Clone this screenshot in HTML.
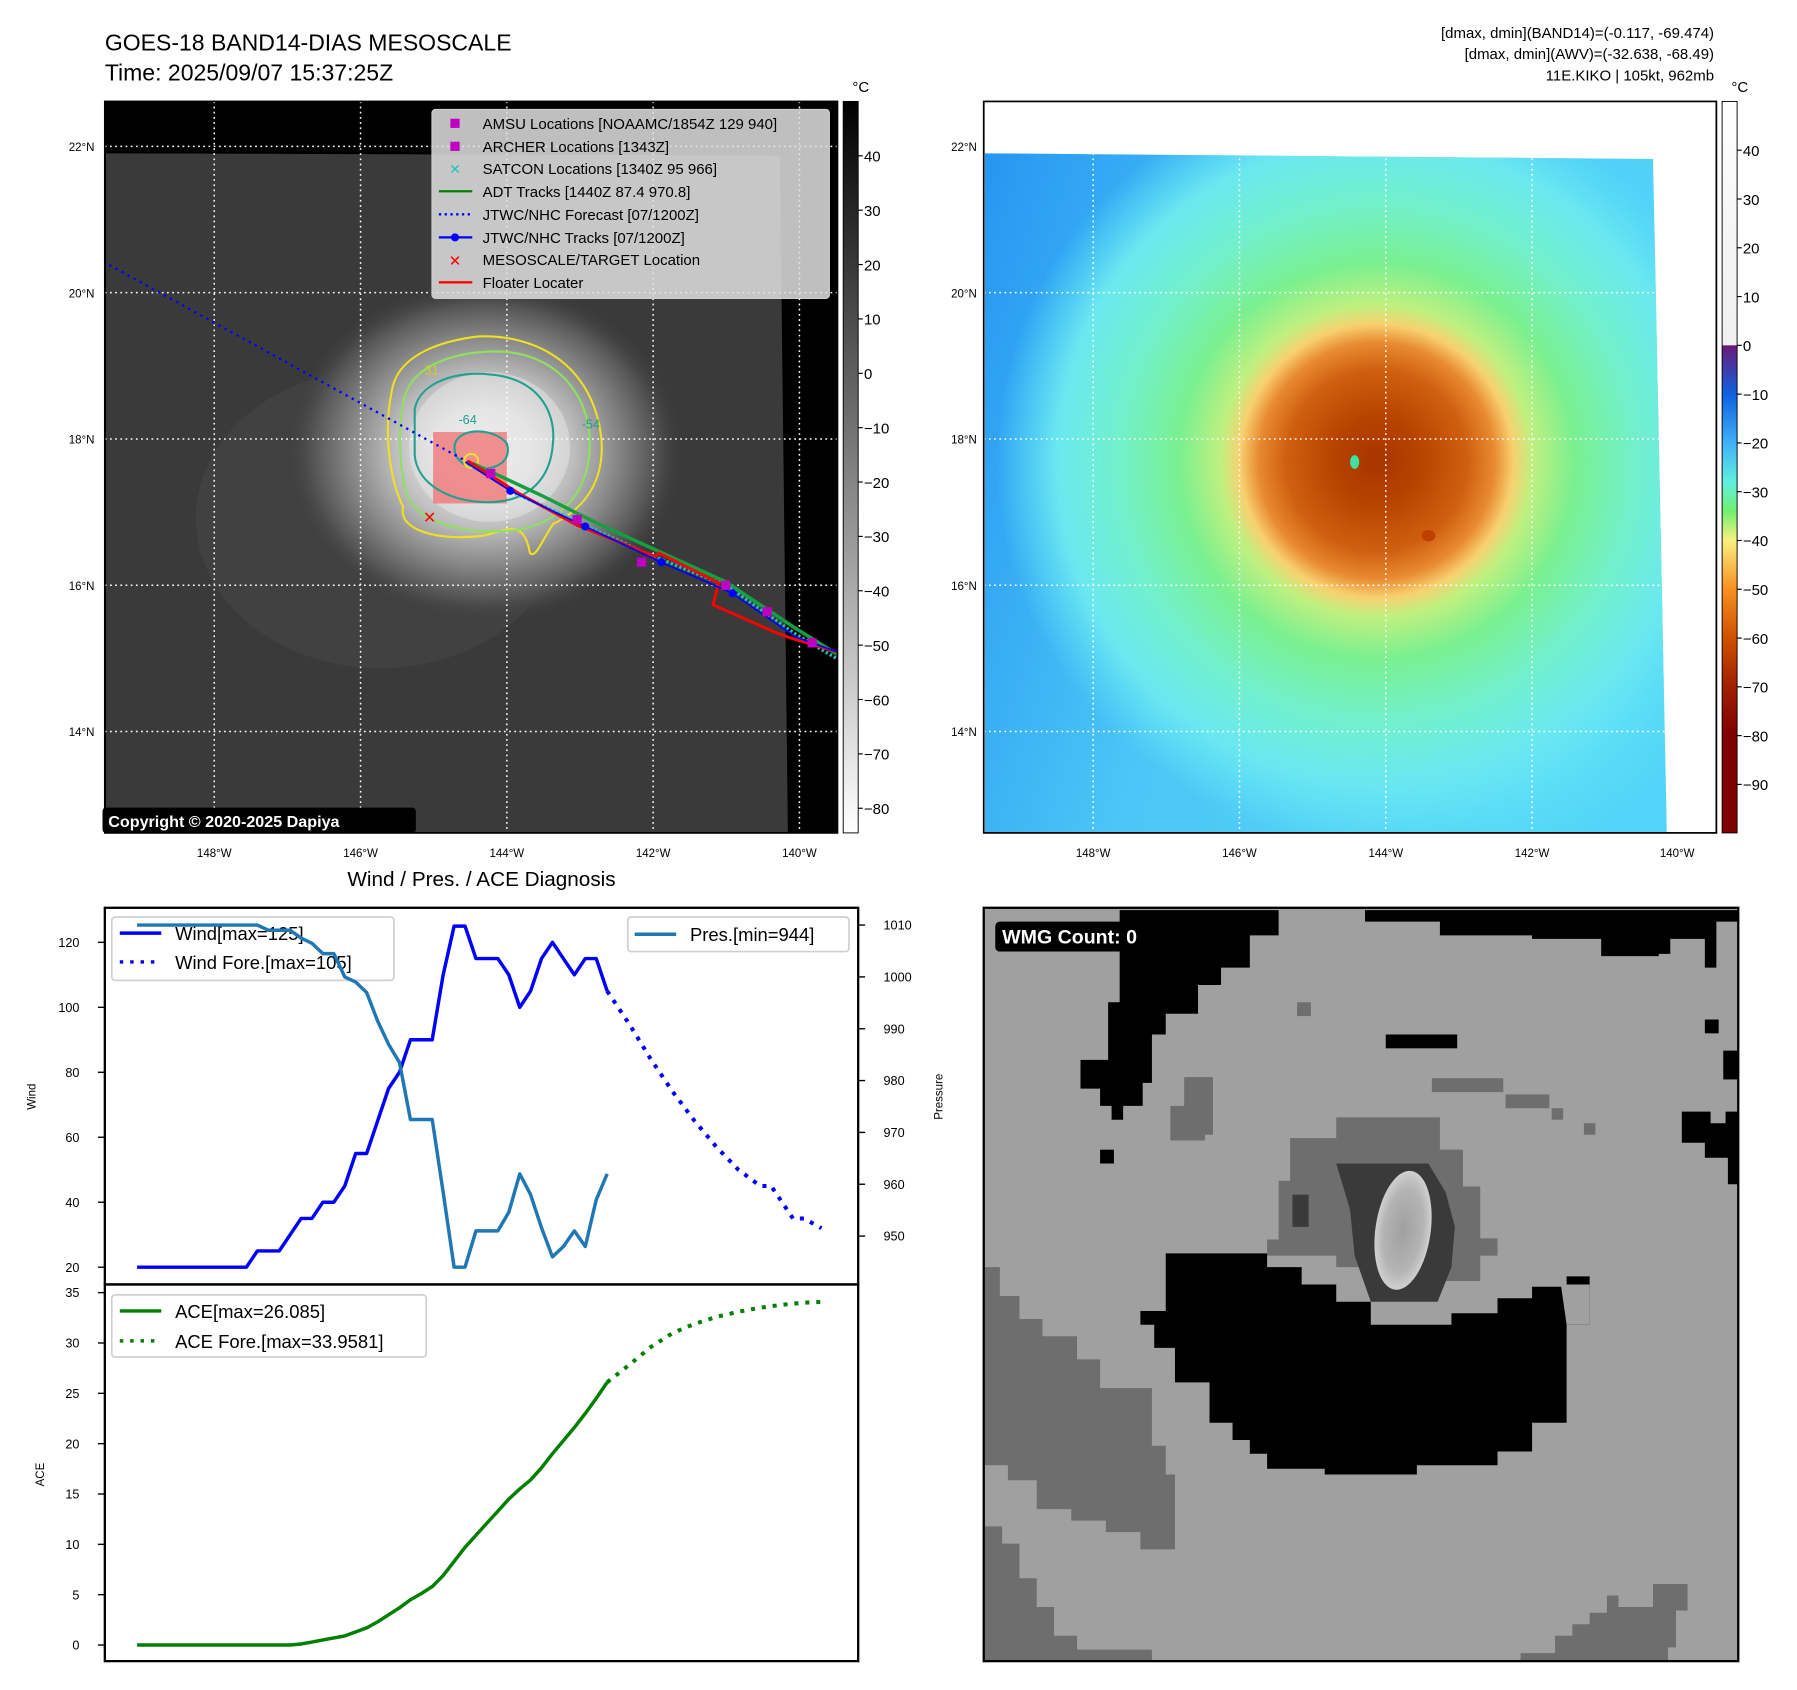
<!DOCTYPE html>
<html><head><meta charset="utf-8"><style>
html,body{margin:0;padding:0;background:#fff}
svg{display:block;font-family:"Liberation Sans","DejaVu Sans",sans-serif}
</style></head><body>
<svg id="fig" width="1797" height="1690" viewBox="0 0 1560 1467" xmlns="http://www.w3.org/2000/svg">
<defs>
<clipPath id="m1clip"><rect x="91" y="88" width="636" height="635"/></clipPath>
<clipPath id="d1clip"><polygon points="92,133 677,135 684,723 92,723"/></clipPath>
<clipPath id="d2clip"><polygon points="855,133 1435,138 1447,723 855,723"/></clipPath>
<clipPath id="wclip"><rect x="854" y="788" width="655" height="654"/></clipPath>
<radialGradient id="storm1" cx="0.5" cy="0.5" r="0.5">
<stop offset="0" stop-color="#f2f2f2"/><stop offset="0.25" stop-color="#e2e2e2"/><stop offset="0.45" stop-color="#bcbcbc"/><stop offset="0.65" stop-color="#8a8a8a"/><stop offset="0.85" stop-color="#555"/><stop offset="1" stop-color="#3a3a3a" stop-opacity="0"/>
</radialGradient>
<linearGradient id="bg2" x1="0" y1="0" x2="1" y2="0.3">
<stop offset="0" stop-color="#2596f2"/><stop offset="0.45" stop-color="#4cc6f6"/><stop offset="1" stop-color="#52d4f8"/>
</linearGradient>
<radialGradient id="bg2b" cx="0.5" cy="0.5" r="0.5">
<stop offset="0" stop-color="#7af8f0"/><stop offset="1" stop-color="#7af8f0" stop-opacity="0"/>
</radialGradient>
<radialGradient id="storm2" cx="0.5" cy="0.5" r="0.5">
<stop offset="0" stop-color="#a83400"/><stop offset="0.12" stop-color="#b84400"/><stop offset="0.24" stop-color="#d06010"/><stop offset="0.31" stop-color="#e88a30"/><stop offset="0.36" stop-color="#f8d070"/><stop offset="0.41" stop-color="#c0f080"/><stop offset="0.52" stop-color="#7af090"/><stop offset="0.68" stop-color="#72f0cc"/><stop offset="0.84" stop-color="#6ae8f0"/><stop offset="1" stop-color="#60e0f8" stop-opacity="0"/>
</radialGradient>
<linearGradient id="cb1" x1="0" y1="0" x2="0" y2="1"><stop offset="0" stop-color="#000"/><stop offset="1" stop-color="#fff"/></linearGradient>
<linearGradient id="cb2" x1="0" y1="0" x2="0" y2="1">
<stop offset="0" stop-color="#ffffff"/><stop offset="0.2" stop-color="#f4f4f4"/><stop offset="0.333" stop-color="#f0f0f0"/><stop offset="0.334" stop-color="#6a1a78"/><stop offset="0.4" stop-color="#1060e0"/><stop offset="0.467" stop-color="#40b0f8"/><stop offset="0.52" stop-color="#60f0e0"/><stop offset="0.56" stop-color="#70f070"/><stop offset="0.6" stop-color="#f8f080"/><stop offset="0.667" stop-color="#f89020"/><stop offset="0.734" stop-color="#d05000"/><stop offset="0.8" stop-color="#a02000"/><stop offset="0.867" stop-color="#800000"/><stop offset="1" stop-color="#800000"/>
</linearGradient>
<radialGradient id="eyeg" cx="0.5" cy="0.5" r="0.5"><stop offset="0" stop-color="#a0a0a0"/><stop offset="0.7" stop-color="#b4b4b4"/><stop offset="1" stop-color="#d0d0d0"/></radialGradient>
</defs>

<text x="91" y="44" font-size="20">GOES-18 BAND14-DIAS MESOSCALE</text>
<text x="91" y="70" font-size="20">Time: 2025/09/07 15:37:25Z</text>
<g font-size="13" text-anchor="end">
<text x="1488" y="33">[dmax, dmin](BAND14)=(-0.117, -69.474)</text>
<text x="1488" y="51">[dmax, dmin](AWV)=(-32.638, -68.49)</text>
<text x="1488" y="70">11E.KIKO | 105kt, 962mb</text>
</g>

<g>
<rect x="91" y="88" width="636" height="635" fill="#000"/>
<g clip-path="url(#d1clip)">
<rect x="91" y="130" width="600" height="595" fill="#3a3a3a"/>
<ellipse cx="330" cy="450" rx="160" ry="130" fill="#444" opacity="0.7"/>
<ellipse cx="420" cy="392" rx="175" ry="150" fill="url(#storm1)"/>
<ellipse cx="425" cy="388" rx="70" ry="65" fill="#e8e8e8" opacity="0.5"/>
</g>
<g clip-path="url(#m1clip)">
<g stroke="#fff" stroke-width="1.3" stroke-dasharray="1.5,3" fill="none">
<line x1="91" y1="127" x2="727" y2="127"/><line x1="91" y1="254" x2="727" y2="254"/><line x1="91" y1="381" x2="727" y2="381"/><line x1="91" y1="508" x2="727" y2="508"/><line x1="91" y1="635" x2="727" y2="635"/>
<line x1="186" y1="88" x2="186" y2="723"/><line x1="313" y1="88" x2="313" y2="723"/><line x1="440" y1="88" x2="440" y2="723"/><line x1="567" y1="88" x2="567" y2="723"/><line x1="694" y1="88" x2="694" y2="723"/>
</g>
<rect x="376" y="375" width="64" height="62" fill="#f07070" opacity="0.75"/>
<g fill="none" stroke-width="1.8">
<path stroke="#f0e020" d="M340,340 C345,305 390,295 415,292 C470,290 515,320 522,380 C525,415 510,440 480,455 C470,470 465,485 460,480 C455,450 440,460 420,465 C380,470 345,460 350,440 C340,420 332,380 340,340 Z"/>
<path stroke="#90e060" d="M350,350 C355,315 400,305 430,305 C480,305 512,340 512,385 C512,425 490,452 450,460 C405,465 360,455 352,425 C346,400 346,370 350,350 Z"/>
<path stroke="#20a090" d="M360,355 C365,330 400,322 425,325 C465,328 483,355 480,385 C478,415 460,435 425,436 C390,436 362,420 360,395 Z"/>
<path stroke="#20a090" d="M395,385 C400,370 430,372 440,385 C445,400 430,410 410,406 C398,402 393,395 395,385 Z"/>
<circle cx="409" cy="400" r="6" stroke="#f0e020"/>
</g>
<g font-size="11" fill="#20a090"><text x="365" y="325" fill="#d0d020">-31</text><text x="398" y="368">-64</text><text x="505" y="372">-54</text></g>
<polyline points="95,230 406,401" fill="none" stroke="#0000ff" stroke-width="2" stroke-dasharray="2,4"/>
<polyline points="410,402 470,430 520,455 575,480 630,505 690,545 727,568" fill="none" stroke="#15a040" stroke-width="3"/>
<polyline points="440,425 500,452 560,480 630,508 690,550 727,572" fill="none" stroke="#20c0c0" stroke-width="3" stroke-dasharray="2,2"/>
<polyline points="406,400 450,428 501,456 569,483 572,480 624,506 619,525 671,548 684,553 727,566" fill="none" stroke="#ff0000" stroke-width="2.5"/>
<polyline points="404,401 443,426 508,457 574,488 636,515 691,553 727,566" fill="none" stroke="#0000ff" stroke-width="1.5"/>
<g fill="#0000ff"><circle cx="443" cy="426" r="3.5"/><circle cx="508" cy="457" r="3.5"/><circle cx="574" cy="488" r="3.5"/><circle cx="636" cy="515" r="3.5"/></g>
<g fill="#c000c0"><rect x="422" y="407" width="8" height="8"/><rect x="497" y="447" width="8" height="8"/><rect x="553" y="484" width="8" height="8"/><rect x="626" y="504" width="8" height="8"/><rect x="662" y="527" width="8" height="8"/><rect x="701" y="554" width="8" height="8"/></g>
<text x="373" y="454" font-size="14" font-weight="bold" fill="#ff0000" text-anchor="middle">✕</text>
</g>
<rect x="91" y="88" width="636" height="635" fill="none" stroke="#000" stroke-width="1.5"/>
<g>
<rect x="375" y="95" width="345" height="164" rx="3" fill="#e0e0e0" fill-opacity="0.85" stroke="#ccc"/>
<g font-size="13">
<rect x="391" y="103" width="8" height="8" fill="#c000c0"/><text x="419" y="112">AMSU Locations [NOAAMC/1854Z 129 940]</text>
<rect x="391" y="123" width="8" height="8" fill="#c000c0"/><text x="419" y="132">ARCHER Locations [1343Z]</text>
<text x="395" y="151" fill="#20c0c0" font-size="12" font-weight="bold" text-anchor="middle">✕</text><text x="419" y="151">SATCON Locations [1340Z 95 966]</text>
<line x1="381" y1="166" x2="410" y2="166" stroke="#008000" stroke-width="2"/><text x="419" y="171">ADT Tracks [1440Z 87.4 970.8]</text>
<line x1="381" y1="186" x2="410" y2="186" stroke="#0000ff" stroke-width="2" stroke-dasharray="2,3"/><text x="419" y="191">JTWC/NHC Forecast [07/1200Z]</text>
<line x1="381" y1="206" x2="410" y2="206" stroke="#0000ff" stroke-width="2"/><circle cx="395" cy="206" r="3.5" fill="#0000ff"/><text x="419" y="211">JTWC/NHC Tracks [07/1200Z]</text>
<text x="395" y="231" fill="#ff0000" font-size="13" font-weight="bold" text-anchor="middle">✕</text><text x="419" y="230">MESOSCALE/TARGET Location</text>
<line x1="381" y1="245" x2="410" y2="245" stroke="#ff0000" stroke-width="2"/><text x="419" y="250">Floater Locater</text>
</g></g>
<g><rect x="89" y="701" width="272" height="22" rx="3" fill="#000"/><text x="94" y="718" font-size="14" font-weight="bold" fill="#fff">Copyright © 2020-2025 Dapiya</text></g>
</g>
<g font-size="10" text-anchor="end">
<text x="82" y="131">22°N</text><text x="82" y="258">20°N</text><text x="82" y="385">18°N</text><text x="82" y="512">16°N</text><text x="82" y="639">14°N</text></g>
<g font-size="10" text-anchor="middle">
<text x="186" y="744">148°W</text><text x="313" y="744">146°W</text><text x="440" y="744">144°W</text><text x="567" y="744">142°W</text><text x="694" y="744">140°W</text></g>
<g>
<rect x="732" y="88" width="13" height="635" fill="url(#cb1)" stroke="#000" stroke-width="0.8"/>
<text x="740" y="80" font-size="13">°C</text>
<g id="cb1ticks" font-size="13"></g>
</g>

<g>
<rect x="854" y="88" width="636" height="635" fill="#fff"/>
<g clip-path="url(#d2clip)">
<rect x="854" y="130" width="600" height="600" fill="url(#bg2)"/>
<ellipse cx="1230" cy="560" rx="260" ry="200" fill="url(#bg2b)"/>
<ellipse cx="1195" cy="400" rx="330" ry="330" fill="url(#storm2)"/>
<ellipse cx="1176" cy="401" rx="4" ry="6" fill="#40e0a0"/>
<ellipse cx="1240" cy="465" rx="6" ry="5" fill="#c04000"/>
<g stroke="#fff" stroke-width="1.3" stroke-dasharray="1.5,3">
<line x1="854" y1="127" x2="1490" y2="127"/><line x1="854" y1="254" x2="1490" y2="254"/><line x1="854" y1="381" x2="1490" y2="381"/><line x1="854" y1="508" x2="1490" y2="508"/><line x1="854" y1="635" x2="1490" y2="635"/>
<line x1="949" y1="88" x2="949" y2="723"/><line x1="1076" y1="88" x2="1076" y2="723"/><line x1="1203" y1="88" x2="1203" y2="723"/><line x1="1330" y1="88" x2="1330" y2="723"/>
</g></g>
<rect x="854" y="88" width="636" height="635" fill="none" stroke="#000" stroke-width="1.5"/>
</g>
<g font-size="10" text-anchor="end">
<text x="848" y="131">22°N</text><text x="848" y="258">20°N</text><text x="848" y="385">18°N</text><text x="848" y="512">16°N</text><text x="848" y="639">14°N</text></g>
<g font-size="10" text-anchor="middle">
<text x="949" y="744">148°W</text><text x="1076" y="744">146°W</text><text x="1203" y="744">144°W</text><text x="1330" y="744">142°W</text><text x="1456" y="744">140°W</text></g>
<g>
<rect x="1495" y="88" width="13" height="635" fill="url(#cb2)" stroke="#000" stroke-width="0.8"/>
<text x="1503" y="80" font-size="13">°C</text>
<g id="cb2ticks" font-size="13"></g>
</g>

<text x="418" y="769" font-size="18" text-anchor="middle">Wind / Pres. / ACE Diagnosis</text>
<g id="chart"></g>

<g>
<g clip-path="url(#wclip)">
<rect x="854" y="788" width="655" height="654" fill="#a0a0a0"/>
<g fill="#6e6e6e">
<polygon points="855,1100 868,1100 868,1125 885,1125 885,1145 905,1145 905,1160 935,1160 935,1180 955,1180 955,1205 1000,1205 1000,1255 1012,1255 1012,1280 1020,1280 1020,1345 990,1345 990,1330 960,1330 960,1320 930,1320 930,1310 900,1310 900,1285 875,1285 875,1272 855,1272"/>
<polygon points="855,1325 870,1325 870,1340 885,1340 885,1370 900,1370 900,1395 915,1395 915,1420 935,1420 935,1432 1000,1432 1000,1442 855,1442"/>
<polygon points="1320,1442 1320,1435 1350,1435 1350,1420 1365,1420 1365,1410 1380,1410 1380,1400 1395,1400 1395,1385 1405,1385 1405,1395 1435,1395 1435,1375 1465,1375 1465,1398 1455,1398 1455,1430 1448,1430 1448,1442"/>
<rect x="1028" y="935" width="25" height="50"/><rect x="1016" y="960" width="30" height="30"/><rect x="1243" y="936" width="62" height="12"/><rect x="1307" y="950" width="38" height="12"/><rect x="1347" y="962" width="10" height="10"/><rect x="1375" y="975" width="10" height="10"/><rect x="1126" y="870" width="12" height="12"/>
<polygon points="1120,988 1160,988 1160,970 1250,970 1250,998 1270,998 1270,1030 1285,1030 1285,1075 1300,1075 1300,1090 1285,1090 1285,1112 1190,1112 1190,1100 1160,1100 1160,1090 1100,1090 1100,1076 1110,1076 1110,1025 1120,1025"/>
</g>
<g fill="#000">
<polygon points="972,790 1110,790 1110,812 1085,812 1085,840 1060,840 1060,855 1040,855 1040,880 1012,880 1012,898 1000,898 1000,940 992,940 992,960 975,960 975,972 965,972 965,960 955,960 955,945 938,945 938,920 962,920 962,870 972,870"/>
<polygon points="1185,790 1510,790 1510,800 1490,800 1490,840 1480,840 1480,815 1450,815 1450,828 1440,828 1440,830 1390,830 1390,815 1330,815 1330,812 1250,812 1250,800 1185,800"/>
<rect x="1203" y="898" width="62" height="12"/><rect x="1480" y="885" width="12" height="12"/><rect x="1496" y="912" width="14" height="25"/><rect x="955" y="998" width="12" height="12"/>
<polygon points="1460,965 1485,965 1485,975 1498,975 1498,965 1510,965 1510,1028 1500,1028 1500,1005 1480,1005 1480,992 1460,992"/>
<polygon points="1012,1088 1100,1088 1100,1100 1130,1100 1130,1115 1160,1115 1160,1130 1190,1130 1190,1150 1260,1150 1260,1140 1300,1140 1300,1127 1330,1127 1330,1117 1360,1117 1360,1108 1380,1108 1380,1150 1360,1150 1360,1235 1330,1235 1330,1260 1300,1260 1300,1272 1230,1272 1230,1280 1150,1280 1150,1275 1100,1275 1100,1262 1085,1262 1085,1250 1070,1250 1070,1235 1050,1235 1050,1200 1020,1200 1020,1170 1002,1170 1002,1150 990,1150 990,1138 1012,1138"/>
</g>
<polygon fill="#a0a0a0" points="1355,1115 1380,1115 1380,1150 1360,1150"/>
<polygon fill="#3a3a3a" points="1160,1010 1240,1010 1255,1035 1263,1065 1260,1100 1248,1130 1190,1130 1176,1090 1172,1050"/>
<rect x="1122" y="1037" width="14" height="28" fill="#3a3a3a"/>
<ellipse cx="1218" cy="1068" rx="24" ry="52" transform="rotate(8 1218 1068)" fill="url(#eyeg)"/>
</g>
<rect x="854" y="788" width="655" height="654" fill="none" stroke="#000" stroke-width="2"/>
<g><rect x="864" y="800" width="160" height="26" rx="4" fill="#000"/><text x="870" y="819" font-size="17" font-weight="bold" fill="#fff">WMG Count: 0</text></g>
</g>

<script>
var windObs = [20,20,20,20,20,20,20,20,20,20,20,25,25,25,30,35,35,40,40,45,55,55,65,75,80,90,90,90,110,125,125,115,115,115,110,100,105,115,120,115,110,115,115,105];
var presObs = [1010,1010,1010,1010,1010,1010,1010,1010,1010,1010,1010,1010,1009,1009,1009,1007.5,1006.5,1004.5,1004.5,1000,999,997,991.5,987,983.5,972.5,972.5,972.5,958.5,944,944,951,951,951,954.6,962,958,951.6,946,948,951,948,957,962];
var aceObs = [0,0,0,0,0,0,0,0,0,0,0,0,0,0,0,0.1,0.3,0.5,0.7,0.9,1.3,1.7,2.3,3.0,3.7,4.5,5.1,5.8,6.9,8.3,9.7,10.9,12.1,13.3,14.5,15.5,16.4,17.6,19.0,20.3,21.6,23.0,24.5,26.1];
var foreIdx = [43,45,47,49,51,53,55,57,58,59,60,61,62.6];
var windFore = [105,95,84,74,65,57,50,45,45,40,35,35,32];
var aceForeIdx = [43,45,47,49,51,53,55,57,59,61,63];
var aceFore = [26.1,27.8,29.6,31.0,31.9,32.6,33.1,33.5,33.8,34.0,34.1];
var windTicks = [20,40,60,80,100,120];
var presTicks = [950,960,970,980,990,1000,1010];
var aceTicks = [0,5,10,15,20,25,30,35];
var cb1Ticks = [40,30,20,10,0,-10,-20,-30,-40,-50,-60,-70,-80];
var cb2Ticks = [40,30,20,10,0,-10,-20,-30,-40,-50,-60,-70,-80,-90];

var NS = "http://www.w3.org/2000/svg";
function mk(tag, attrs, parent){var e=document.createElementNS(NS,tag);for(var k in attrs)e.setAttribute(k,attrs[k]);parent.appendChild(e);return e;}
function xS(i){return 119 + i*9.49;}
function yW(v){return 1100 - (v-20)*2.82;}
function yP(v){return 1073 - (v-950)*4.5;}
function yA(v){return 1428 - v*8.74;}
function yC1(v){return 88 + (50-v)*4.72;}
function yC2(v){return 88 + (50-v)*4.235;}
function lbl(s){return (s<0?"\u2212"+(-s):""+s);}

var cb1 = document.getElementById('cb1ticks');
cb1Ticks.forEach(function(v){
  var t = mk('line',{x1:745,x2:749,y1:yC1(v),y2:yC1(v),stroke:'#000'},cb1);
  
  
  var tx = mk('text',{x:750,y:yC1(v)+5},cb1); tx.textContent = lbl(v);
  
  
});
var cb2 = document.getElementById('cb2ticks');
cb2Ticks.forEach(function(v){
  var t = mk('line',{x1:1508,x2:1512,y1:yC2(v),y2:yC2(v),stroke:'#000'},cb2);
  
  
  var tx = mk('text',{x:1513,y:yC2(v)+5},cb2); tx.textContent = lbl(v);
  
  
});

var ch = document.getElementById('chart');
function pts(xs, ys, fy){return ys.map(function(v,i){return xS(xs?xs[i]:i).toFixed(1)+','+fy(v).toFixed(1);}).join(' ');}

var f1 = mk('rect',{x:91,y:788,width:654,height:327,fill:'#fff',stroke:'none'},ch);


var f2 = mk('rect',{x:91,y:1115,width:654,height:327,fill:'#fff',stroke:'none'},ch);



windTicks.forEach(function(v){
  var t=mk('line',{x1:85,x2:91,y1:yW(v),y2:yW(v),stroke:'#000','stroke-width':1.2},ch);
  
  
  var tx=mk('text',{x:69,y:yW(v)+4,'font-size':11,'text-anchor':'end'},ch); tx.textContent=v;
  
  
});
presTicks.forEach(function(v){
  var t=mk('line',{x1:745,x2:751,y1:yP(v),y2:yP(v),stroke:'#000','stroke-width':1.2},ch);
  
  
  var tx=mk('text',{x:767,y:yP(v)+4,'font-size':11},ch); tx.textContent=v;
  
  
});
aceTicks.forEach(function(v){
  var t=mk('line',{x1:85,x2:91,y1:yA(v),y2:yA(v),stroke:'#000','stroke-width':1.2},ch);
  
  
  var tx=mk('text',{x:69,y:yA(v)+4,'font-size':11,'text-anchor':'end'},ch); tx.textContent=v;
  
  
});
var yl1=mk('text',{x:31,y:952,'font-size':10,'text-anchor':'middle',transform:'rotate(-90 31 952)'},ch); yl1.textContent='Wind';


var yl2=mk('text',{x:818,y:952,'font-size':10,'text-anchor':'middle',transform:'rotate(-90 818 952)'},ch); yl2.textContent='Pressure';


var yl3=mk('text',{x:38,y:1280,'font-size':10,'text-anchor':'middle',transform:'rotate(-90 38 1280)'},ch); yl3.textContent='ACE';



var lg1=mk('g',{},ch);


mk('rect',{x:97,y:796,width:245,height:55,rx:3,fill:'#fff','fill-opacity':0.8,stroke:'#d0d0d0','stroke-width':1.5},lg1);
mk('line',{x1:104,x2:140,y1:810,y2:810,stroke:'#0000ff','stroke-width':3},lg1);
mk('line',{x1:104,x2:140,y1:835,y2:835,stroke:'#0000ff','stroke-width':3,'stroke-dasharray':'3,6'},lg1);
var t1=mk('text',{x:152,y:816,'font-size':16},lg1); t1.textContent='Wind[max=125]';
var t2=mk('text',{x:152,y:841,'font-size':16},lg1); t2.textContent='Wind Fore.[max=105]';

var wl=mk('polyline',{points:pts(null,windObs,yW),fill:'none',stroke:'#0000ff','stroke-width':3,'stroke-linejoin':'round'},ch);


var wf=mk('polyline',{points:pts(foreIdx,windFore,yW),fill:'none',stroke:'#0000ff','stroke-width':3.5,'stroke-dasharray':'3.5,6'},ch);


var pl=mk('polyline',{points:pts(null,presObs,yP),fill:'none',stroke:'#1f77b4','stroke-width':3,'stroke-linejoin':'round'},ch);



var lg2=mk('g',{},ch);


mk('rect',{x:545,y:796,width:192,height:30,rx:3,fill:'#fff','fill-opacity':0.8,stroke:'#d0d0d0','stroke-width':1.5},lg2);
mk('line',{x1:551,x2:587,y1:811,y2:811,stroke:'#1f77b4','stroke-width':3},lg2);
var t3=mk('text',{x:599,y:817,'font-size':16},lg2); t3.textContent='Pres.[min=944]';

var al=mk('polyline',{points:pts(null,aceObs,yA),fill:'none',stroke:'#008000','stroke-width':3,'stroke-linejoin':'round'},ch);


var af=mk('polyline',{points:pts(aceForeIdx,aceFore,yA),fill:'none',stroke:'#008000','stroke-width':3.5,'stroke-dasharray':'3.5,6'},ch);



var lg3=mk('g',{},ch);


mk('rect',{x:97,y:1124,width:273,height:54,rx:3,fill:'#fff','fill-opacity':0.8,stroke:'#d0d0d0','stroke-width':1.5},lg3);
mk('line',{x1:104,x2:140,y1:1138,y2:1138,stroke:'#008000','stroke-width':3},lg3);
mk('line',{x1:104,x2:140,y1:1164,y2:1164,stroke:'#008000','stroke-width':3,'stroke-dasharray':'3,6'},lg3);
var t4=mk('text',{x:152,y:1144,'font-size':16},lg3); t4.textContent='ACE[max=26.085]';
var t5=mk('text',{x:152,y:1170,'font-size':16},lg3); t5.textContent='ACE Fore.[max=33.9581]';

mk('rect',{x:91,y:788,width:654,height:327,fill:'none',stroke:'#000','stroke-width':2},ch);
mk('rect',{x:91,y:1115,width:654,height:327,fill:'none',stroke:'#000','stroke-width':2},ch);
</script>
</svg>
</body></html>
